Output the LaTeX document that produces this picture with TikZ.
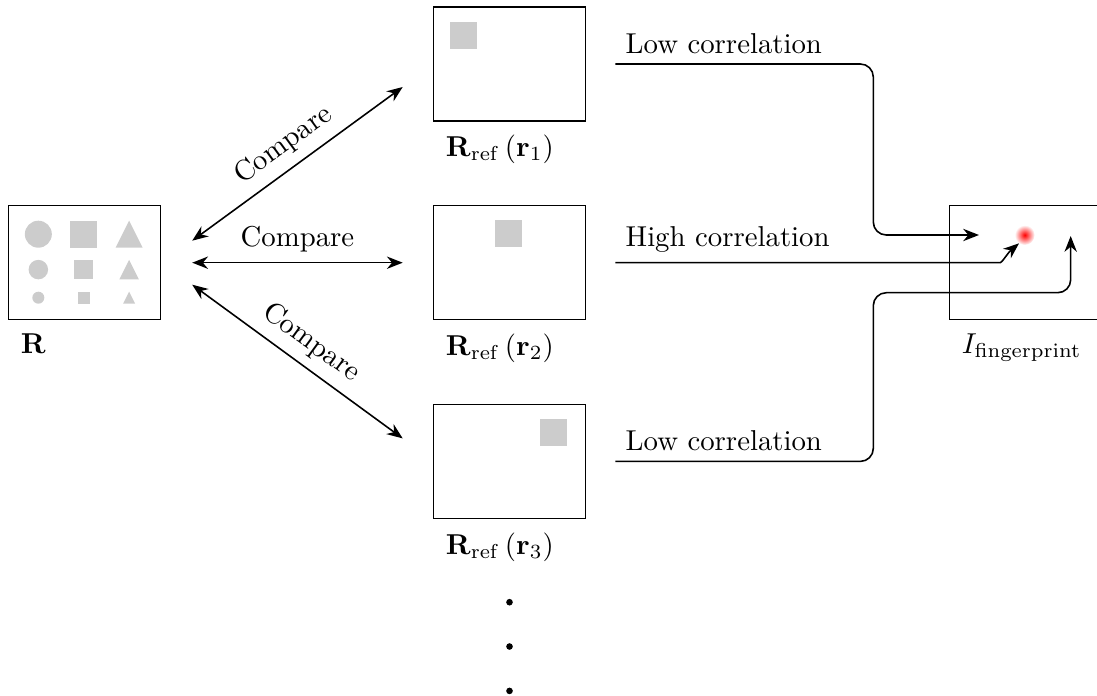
\documentclass[tikz,border=0pt]{standalone}
\usepackage{amsmath}
\usetikzlibrary{arrows.meta,positioning}

\begin{document}
\begin{tikzpicture}[
    x=0.3477pt, y=0.3477pt, line width=0.55pt,
    panel/.style={draw, minimum width=52.85pt, minimum height=39.64pt, inner sep=0pt},
    figfill/.style={fill=black!20},
    cmp/.style={draw, {Stealth[length=5.5pt,width=4.3pt]}-{Stealth[length=5.5pt,width=4.3pt]}},
    flow/.style={draw, -{Stealth[length=5.5pt,width=4.3pt]}, rounded corners=4.5pt},
    dot/.style={circle, fill, inner sep=0pt, minimum size=2.3pt}]

  \useasboundingbox (0,0) rectangle (1097,695);

  \node[panel] (ref1) at (509.5,631) {};
  \node[panel, below=28.9pt of ref1] (ref2) {};
  \node[panel, below=28.9pt of ref2] (ref3) {};
  \node[panel, left=94.4pt of ref2] (R) {};
  \node[panel, right=126pt of ref2] (fp) {};

  % shapes in the measured image
  \begin{scope}[shift={(R.north west)}]
    \foreach \sz/\row in {27/29.3, 19.5/64.7, 12/92.8} {
      \fill[figfill] (30.7,-\row) circle ({\sz/2});
      \fill[figfill] (76-\sz/2,-\row-\sz/2) rectangle ++(\sz,\sz);
      \fill[figfill] (121.5-\sz/2,-\row-\sz/2) -- (121.5,-\row+\sz/2)
        -- (121.5+\sz/2,-\row-\sz/2) -- cycle;
    }
  \end{scope}
  \foreach \i in {1,2,3}
    \fill[figfill] ([shift={(17.5+45*\i-45,-15.5)}]ref\i.north west) rectangle ++(27,-27);

  \node[below right=1pt and 1pt of R.south west] (lR) {$\mathbf{R}$};
  \foreach \i in {1,2,3}
    \node[below right=1pt and 1pt of ref\i.south west] (lref\i)
      {$\mathbf{R}_{\mathrm{ref}}\left(\mathbf{r}_{\i}\right)$};
  \node[below right=1pt and 1pt of fp.south west] (lfp) {$I_{\mathrm{fingerprint}}$};

  \draw[cmp] ([shift={(31,22)}]R.east) -- node[sloped, above] {Compare}
    ([shift={(-30,-23)}]ref1.west);
  \draw[cmp] ([shift={(31,0)}]R.east) -- node[above] {Compare}
    ([shift={(-30,0)}]ref2.west);
  \draw[cmp] ([shift={(31,-22)}]R.east) -- node[sloped, above] {Compare}
    ([shift={(-30,23)}]ref3.west);

  \foreach \i in {1,2,3}
    \coordinate (s\i) at ([shift={(29,0)}]ref\i.east);
  \coordinate (t1) at ([shift={(30.3,27.7)}]fp.west);
  \coordinate (t2) at ([shift={(70.3,19.3)}]fp.west);
  \coordinate (t3) at ([shift={(122,26.7)}]fp.west);
  \coordinate (spot) at ([shift={(76,27.7)}]fp.west);

  \shade[inner color=red, outer color=white] (spot) circle (10);

  \node[above right] (lo1) at (s1) {Low correlation};
  \node[above right] (hi2) at (s2) {High correlation};
  \node[above right] (lo3) at (s3) {Low correlation};

  \draw[flow] (s1) -- ++(258,0) |- (t1);
  \draw[flow] (s2) -- ([shift={(-31.6,-19.3)}]t2) to[out=0, in=-140] (t2);
  \draw[flow] (s3) -- ++(258,0) -- ++(0,168.7) -| (t3);

  \foreach \k/\d in {1/83, 2/127.3, 3/171.7}
    \node[dot] (dot\k) at ([shift={(0,-\d)}]ref3.south) {};
\end{tikzpicture}
\end{document}
